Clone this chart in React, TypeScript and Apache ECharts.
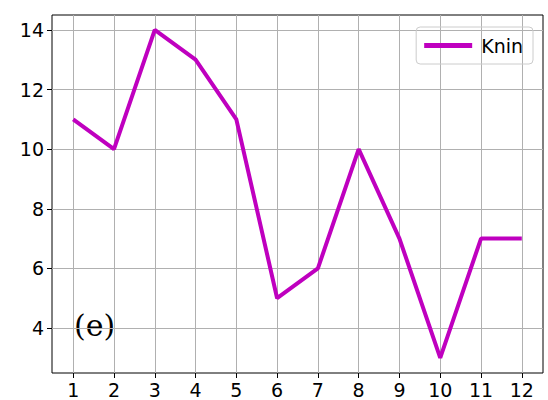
import { useRef, useEffect } from 'react'
import * as echarts from 'echarts'

const xValues = [1, 2, 3, 4, 5, 6, 7, 8, 9, 10, 11, 12]
const knin = [11, 10, 14, 13, 11, 5, 6, 10, 7, 3, 7, 7]
const yTicks = [4, 6, 8, 10, 12, 14]

export default function App() {
  const cDom = useRef<HTMLDivElement>(null)
  useEffect(() => {
    if (!cDom.current) return
    const chart = echarts.init(cDom.current, null, { renderer: 'svg' })
    const font = { fontFamily: 'DejaVu Sans', fontSize: 19, color: '#000' }
    chart.setOption({
      animation: false,
      backgroundColor: '#fff',
      grid: { left: 52, right: 5, top: 15, bottom: 27, show: true, borderColor: '#000', borderWidth: 1 },
      legend: {
        right: 15, top: 27, itemWidth: 48, itemHeight: 5, icon: 'rect', itemGap: 12,
        padding: [9, 10, 9, 8], borderColor: '#ccc', borderWidth: 1, borderRadius: 4,
        textStyle: { ...font, padding: [0, 0, 0, 4] }, data: ['Knin']
      },
      graphic: [{ type: 'text', left: 74, top: 310, style: { text: '(e)', font: '30px "DejaVu Serif"', fill: '#000' } }],
      xAxis: {
        type: 'value', min: 0.48, max: 12.52,
        axisLine: { show: false },
        axisTick: { show: true, length: 5, lineStyle: { color: '#000' }, customValues: xValues },
        axisLabel: { ...font, margin: 7, customValues: xValues },
        splitLine: { show: true, lineStyle: { color: '#b0b0b0' } }
      },
      yAxis: {
        type: 'value', min: 2.49, max: 14.5,
        axisLine: { show: false },
        axisTick: { show: true, length: 5, lineStyle: { color: '#000' }, customValues: yTicks },
        axisLabel: { ...font, margin: 8, customValues: yTicks },
        splitLine: { show: true, lineStyle: { color: '#b0b0b0' } }
      },
      series: [{
        name: 'Knin', type: 'line', symbol: 'none',
        lineStyle: { width: 4, color: '#bf00bf' }, itemStyle: { color: '#bf00bf' },
        data: xValues.map((x, i) => [x, knin[i]])
      }]
    })
    return () => chart.dispose()
  }, [])
  return <div ref={cDom} style={{ position: 'fixed', left: 0, top: 0, width: 548, height: 400 }} />
}
